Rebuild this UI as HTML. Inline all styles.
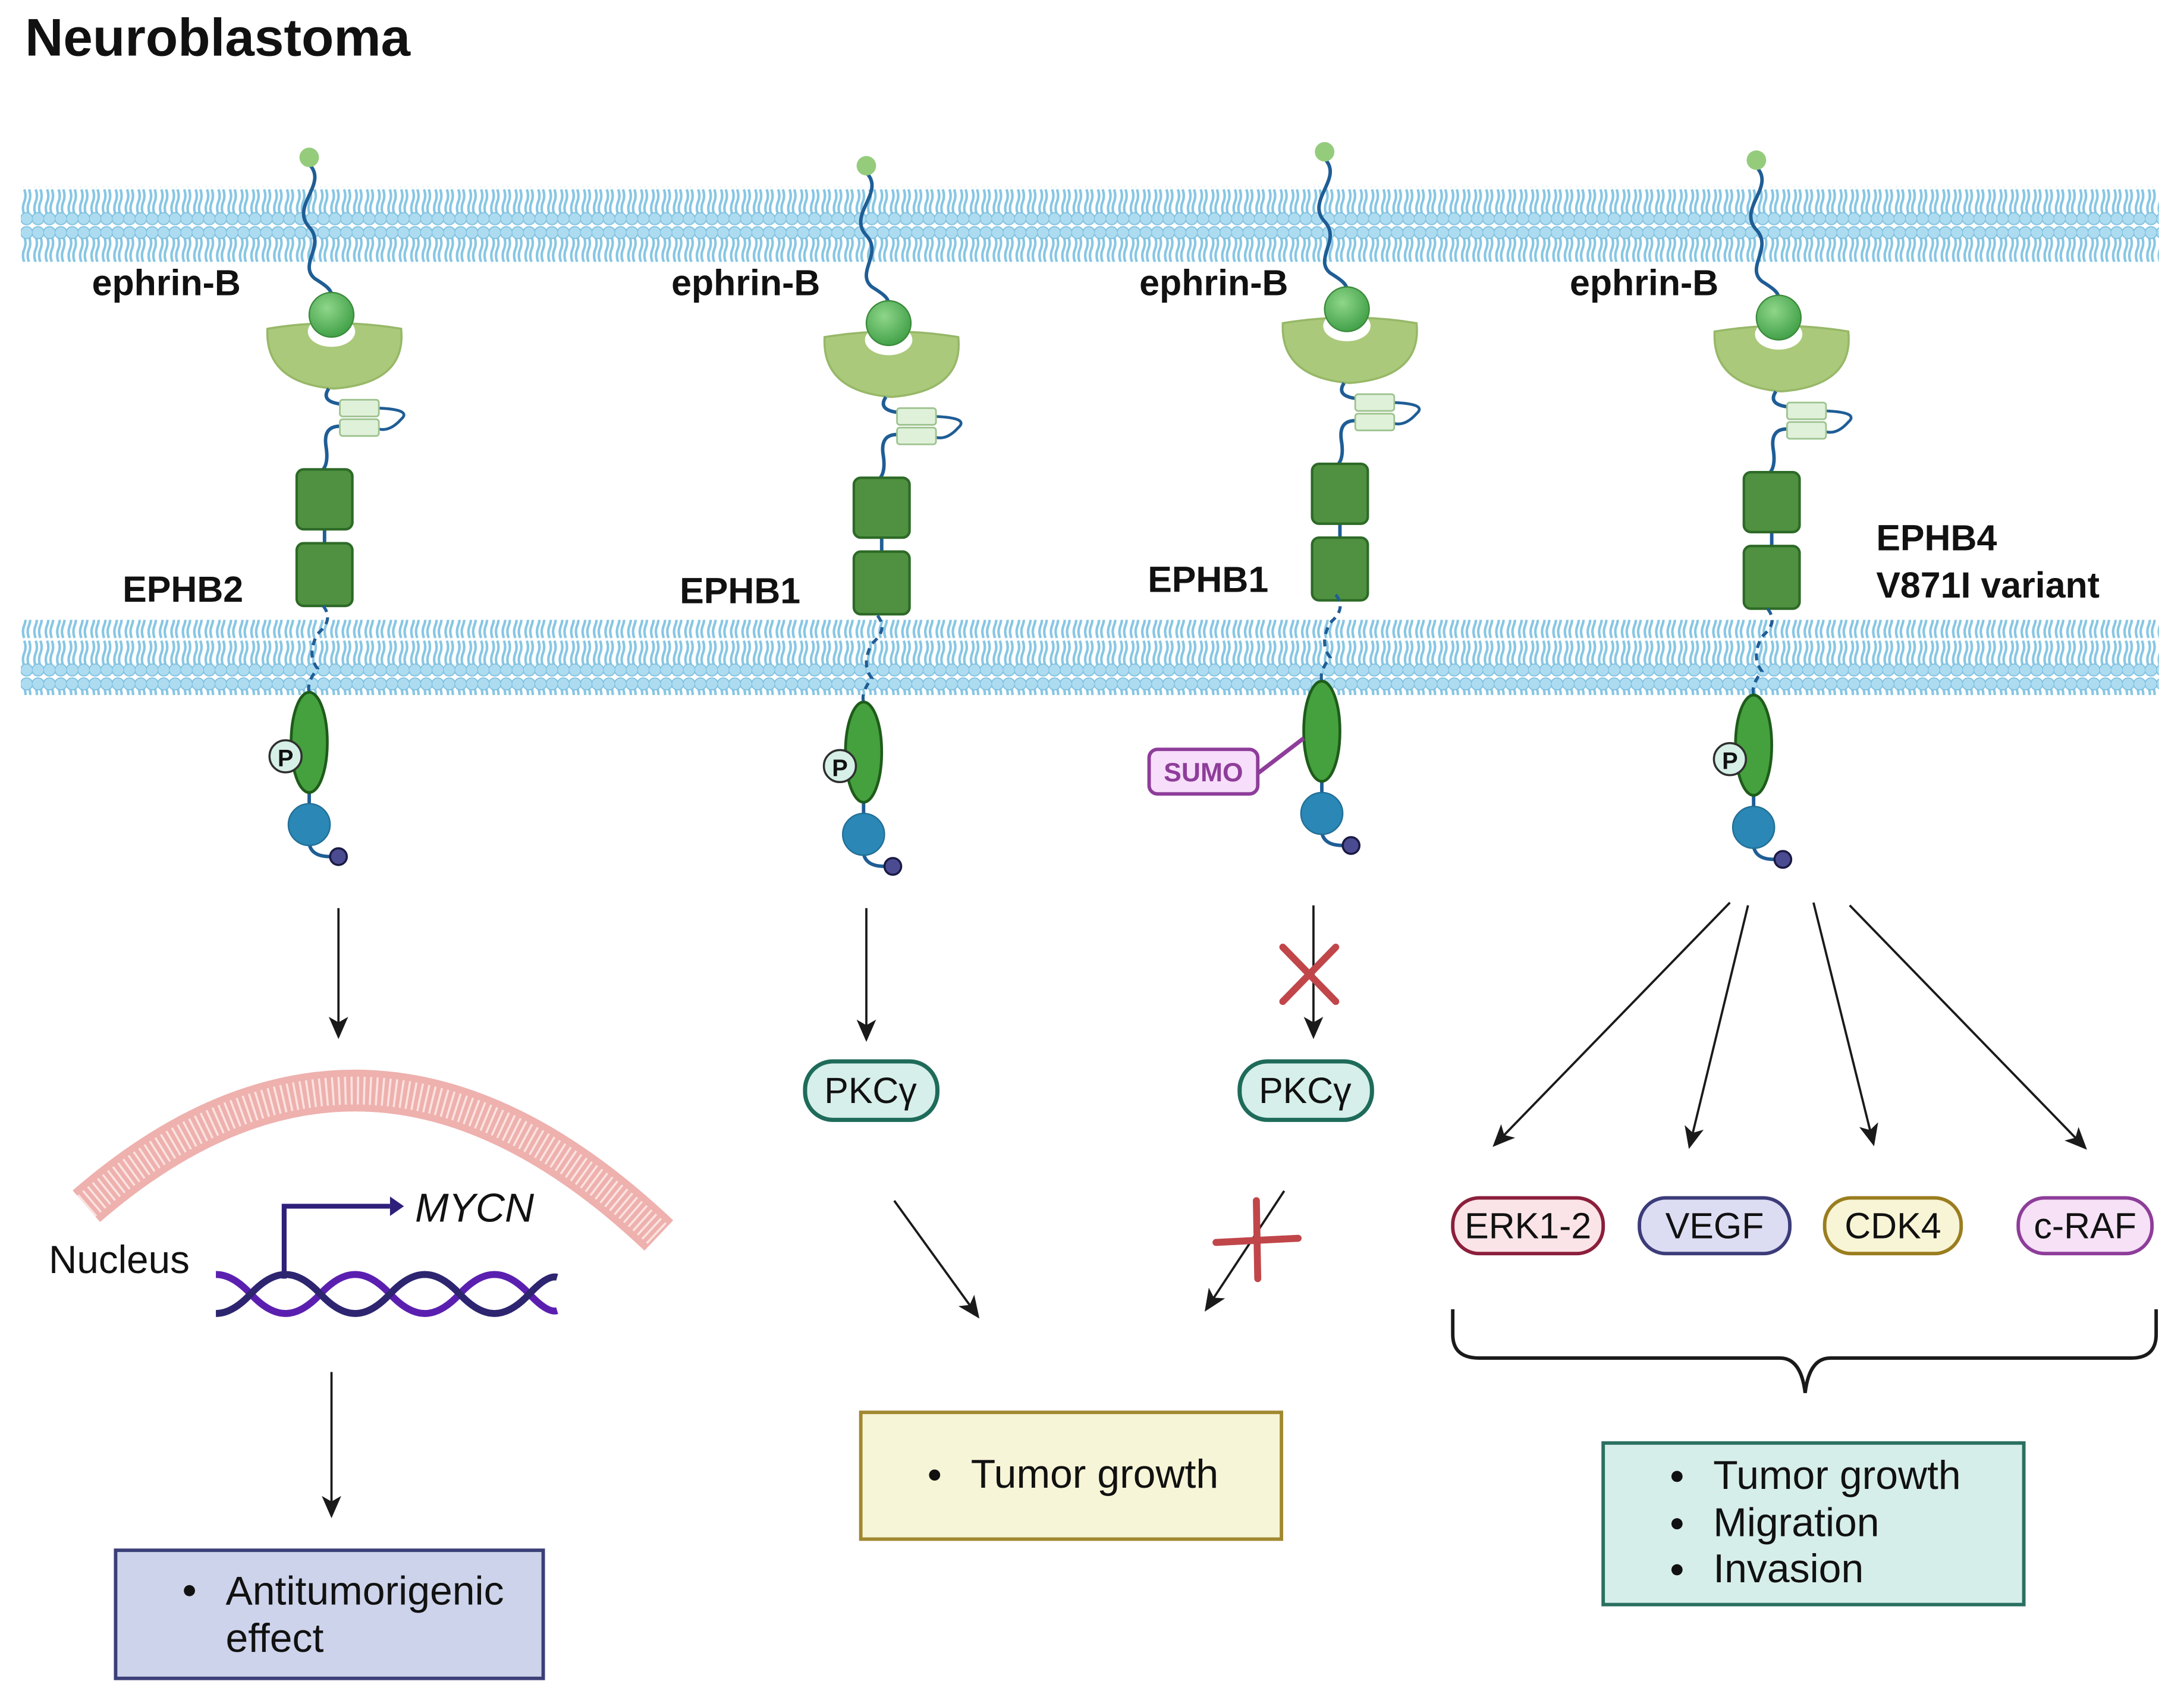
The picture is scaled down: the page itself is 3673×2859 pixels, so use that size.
<!DOCTYPE html>
<html><head><meta charset="utf-8"><style>html,body{margin:0;padding:0;background:#fff}svg{display:block}</style></head>
<body>
<svg width="3673" height="2859" viewBox="0 0 1568 1220.5" xmlns="http://www.w3.org/2000/svg" font-family="Liberation Sans, Arial, sans-serif">
<defs>
<pattern id="mem" x="15" y="0" width="8.2" height="54" patternUnits="userSpaceOnUse">
<rect width="8.2" height="54" fill="#fff"/>
<path d="M2.4,8 q1.8,4.5 0,9 q-1.8,4.5 0,9 M5.8,8 q1.8,4.5 0,9 q-1.8,4.5 0,9 M2.4,28 q1.8,4.5 0,9 q-1.8,4.5 0,9 M5.8,28 q1.8,4.5 0,9 q-1.8,4.5 0,9" stroke="#86c6e4" stroke-width="1.8" fill="none"/>
<circle cx="4.1" cy="5" r="4.3" fill="#addcf1" stroke="#80c1e0" stroke-width="0.8"/>
<circle cx="4.1" cy="49" r="4.3" fill="#addcf1" stroke="#80c1e0" stroke-width="0.8"/>
</pattern>
<radialGradient id="ball" cx="0.4" cy="0.35" r="0.7"><stop offset="0" stop-color="#8fd68a"/><stop offset="1" stop-color="#3e9e45"/></radialGradient>
<marker id="ah2" markerWidth="16" markerHeight="14" refX="14" refY="7" orient="auto" markerUnits="userSpaceOnUse"><path d="M0,0 L16,7 L0,14 L4,7 Z" fill="#1a1a1a"/></marker>
<g id="ext">
<path d="M222,118 C236,132 208,148 222,163 C234,176 214,190 226,200 C234,205 238,208 238,212" stroke="#1f5d95" stroke-width="2.5" fill="none"/>
<circle cx="222" cy="113" r="7" fill="#94cc7c"/>
<path d="M192,236 Q240,228 288,236 Q292,275 240,279 Q190,275 192,236 Z" fill="#abc97b" stroke="#97b868" stroke-width="1.5"/>
<ellipse cx="238" cy="238" rx="17" ry="11" fill="#fff"/>
<circle cx="238" cy="226" r="16" fill="url(#ball)" stroke="#3b8a3b" stroke-width="1"/>
<path d="M236,279 Q230,288 244,290 M244,306 Q232,306 234,320 Q236,332 232,337" stroke="#1f5d95" stroke-width="2.5" fill="none"/>
<path d="M272,293 Q296,294 288,301 Q280,310 272,308" stroke="#1f5d95" stroke-width="2" fill="none"/>
<rect x="244" y="287" width="28" height="12" rx="2" fill="#e0f1da" stroke="#9dc38f" stroke-width="1.2"/>
<rect x="244" y="301" width="28" height="12" rx="2" fill="#e0f1da" stroke="#9dc38f" stroke-width="1.2"/>
<line x1="233" y1="380" x2="233" y2="390" stroke="#1f5d95" stroke-width="2.5"/>
<rect x="213" y="337" width="40" height="43" rx="5" fill="#4f9140" stroke="#2d6a27" stroke-width="1.8"/>
<rect x="213" y="390" width="40" height="45" rx="5" fill="#4f9140" stroke="#2d6a27" stroke-width="1.8"/>
</g>
<g id="intra">
<path d="M232,435 Q240,445 228,455 Q220,470 228,480 Q220,490 222,497" stroke="#1f5d95" stroke-width="2.2" fill="none" stroke-dasharray="5,4"/>
<line x1="222" y1="560" x2="222" y2="580" stroke="#1f5d95" stroke-width="2.5"/>
<path d="M222,600 Q220,615 237,615" stroke="#1f5d95" stroke-width="2.5" fill="none"/>
<ellipse cx="222" cy="533" rx="13" ry="36" fill="#45a03e" stroke="#1e5c1a" stroke-width="2"/>
<circle cx="222" cy="592" r="15" fill="#2a87b6" stroke="#226f96" stroke-width="1"/>
<circle cx="243" cy="615" r="6" fill="#4b4b92" stroke="#1a1a44" stroke-width="1.5"/>
</g>
<g id="pcirc"><circle cx="205" cy="543" r="11.5" fill="#d6f0e8" stroke="#2f2f2f" stroke-width="1.5"/><text x="205" y="550" font-size="17" font-weight="bold" text-anchor="middle" fill="#111">P</text></g>
</defs>

<text x="18" y="40" font-size="38" font-weight="bold" fill="#111">Neuroblastoma</text>

<rect x="15" y="134" width="1535" height="54" fill="url(#mem)"/>
<rect x="15" y="445" width="1535" height="54" fill="url(#mem)"/>

<use href="#ext"/><use href="#intra"/><use href="#pcirc"/>
<g transform="translate(400,6)"><use href="#ext"/></g>
<g transform="translate(398,7)"><use href="#intra"/><use href="#pcirc"/></g>
<g transform="translate(729,-4)"><use href="#ext"/></g>
<g transform="translate(727,-8)"><use href="#intra"/></g>
<g transform="translate(1039,2)"><use href="#ext"/></g>
<g transform="translate(1037,2)"><use href="#intra"/><use href="#pcirc"/></g>

<line x1="936" y1="530" x2="902" y2="556" stroke="#8e3d9a" stroke-width="3"/>
<rect x="825" y="538" width="78" height="32" rx="6" fill="#f7defa" stroke="#8e3d9a" stroke-width="2.5"/>
<text x="864" y="561" font-size="19" font-weight="bold" text-anchor="middle" fill="#8e3d9a">SUMO</text>

<g font-size="26" font-weight="bold" fill="#111">
<text x="66" y="212">ephrin-B</text>
<text x="482" y="212">ephrin-B</text>
<text x="818" y="212">ephrin-B</text>
<text x="1127" y="212">ephrin-B</text>
<text x="88" y="432">EPHB2</text>
<text x="488" y="433">EPHB1</text>
<text x="824" y="425">EPHB1</text>
<text x="1347" y="395">EPHB4</text>
<text x="1347" y="429">V871I variant</text>
</g>

<g stroke="#1a1a1a" stroke-width="1.6" fill="none">
<line x1="243" y1="652" x2="243" y2="744" marker-end="url(#ah2)"/>
<line x1="622" y1="652" x2="622" y2="746" marker-end="url(#ah2)"/>
<line x1="943" y1="650" x2="943" y2="744" marker-end="url(#ah2)"/>
<line x1="238" y1="985" x2="238" y2="1088" marker-end="url(#ah2)"/>
<line x1="642" y1="862" x2="702" y2="945" marker-end="url(#ah2)"/>
<line x1="922" y1="855" x2="866" y2="940" marker-end="url(#ah2)"/>
<line x1="1242" y1="648" x2="1073" y2="822" marker-end="url(#ah2)"/>
<line x1="1255" y1="650" x2="1213" y2="823" marker-end="url(#ah2)"/>
<line x1="1302" y1="648" x2="1345" y2="821" marker-end="url(#ah2)"/>
<line x1="1328" y1="650" x2="1497" y2="824" marker-end="url(#ah2)"/>
</g>
<g stroke="#c0464a" stroke-width="5" stroke-linecap="round">
<line x1="921" y1="680" x2="959" y2="719"/><line x1="959" y1="680" x2="921" y2="719"/>
<line x1="902" y1="862" x2="903" y2="918"/><line x1="873" y1="892" x2="932" y2="889"/>
</g>

<rect x="578" y="762" width="95" height="42" rx="20" fill="#d6efea" stroke="#1e6b5a" stroke-width="3"/>
<text x="625" y="792" font-size="26" text-anchor="middle" fill="#111">PKCγ</text>
<rect x="890" y="762" width="95" height="42" rx="20" fill="#d6efea" stroke="#1e6b5a" stroke-width="3"/>
<text x="937" y="792" font-size="26" text-anchor="middle" fill="#111">PKCγ</text>

<path d="M62,866 Q265,690 473,887" stroke="#eeb1ae" stroke-width="30" fill="none"/>
<path d="M62,866 Q265,690 473,887" stroke="#fbe3e1" stroke-width="20" fill="none" stroke-dasharray="1.5,3"/>
<text x="35" y="914" font-size="28" fill="#111">Nucleus</text>
<path d="M204,918 V866 H280" stroke="#2e1f7a" stroke-width="3.5" fill="none"/>
<path d="M280,859 L290,866 L280,873 Z" fill="#2e1f7a"/>
<text x="298" y="877" font-size="29" font-style="italic" fill="#111">MYCN</text>
<path d="M155,915 q12,0 25,14 t25,14 t25,-14 t25,-14 t25,14 t25,14 t25,-14 t25,-14 t25,14 t20,12" stroke="#5b1fb0" stroke-width="5" fill="none"/>
<path d="M155,943 q12,0 25,-14 t25,-14 t25,14 t25,14 t25,-14 t25,-14 t25,14 t25,14 t25,-14 t20,-12" stroke="#2d2570" stroke-width="5" fill="none"/>

<rect x="1043" y="860" width="108" height="40" rx="19" fill="#fbe4e7" stroke="#8b1f3b" stroke-width="2.5"/>
<text x="1097" y="889" font-size="26" text-anchor="middle" fill="#111">ERK1-2</text>
<rect x="1177" y="860" width="108" height="40" rx="19" fill="#dcdcf3" stroke="#3c3c7a" stroke-width="2.5"/>
<text x="1231" y="889" font-size="26" text-anchor="middle" fill="#111">VEGF</text>
<rect x="1310" y="860" width="98" height="40" rx="19" fill="#f8f5d6" stroke="#9a7d1f" stroke-width="2.5"/>
<text x="1359" y="889" font-size="26" text-anchor="middle" fill="#111">CDK4</text>
<rect x="1449" y="860" width="96" height="40" rx="19" fill="#f6e1f7" stroke="#8e3d9a" stroke-width="2.5"/>
<text x="1497" y="889" font-size="26" text-anchor="middle" fill="#111">c-RAF</text>

<path d="M1043,940 V958 Q1043,975 1062,975 H1278 Q1293,975 1296,1000 Q1299,975 1314,975 H1530 Q1548,975 1548,958 V940" stroke="#1a1a1a" stroke-width="2.5" fill="none"/>

<rect x="83" y="1113" width="307" height="92" fill="#cdd3ea" stroke="#3a3f78" stroke-width="2.5"/>
<circle cx="136" cy="1142" r="4" fill="#111"/>
<text x="162" y="1152" font-size="29" fill="#111">Antitumorigenic</text>
<text x="162" y="1186" font-size="29" fill="#111">effect</text>

<rect x="618" y="1014" width="302" height="91" fill="#f7f5d7" stroke="#a08830" stroke-width="2.5"/>
<circle cx="671" cy="1059" r="4" fill="#111"/>
<text x="697" y="1068" font-size="29" fill="#111">Tumor growth</text>

<rect x="1151" y="1036" width="302" height="116" fill="#d6eeea" stroke="#2a7060" stroke-width="2.5"/>
<circle cx="1204" cy="1060" r="4" fill="#111"/>
<circle cx="1204" cy="1094" r="4" fill="#111"/>
<circle cx="1204" cy="1127" r="4" fill="#111"/>
<text x="1230" y="1069" font-size="29" fill="#111">Tumor growth</text>
<text x="1230" y="1103" font-size="29" fill="#111">Migration</text>
<text x="1230" y="1136" font-size="29" fill="#111">Invasion</text>
</svg>
</body></html>
